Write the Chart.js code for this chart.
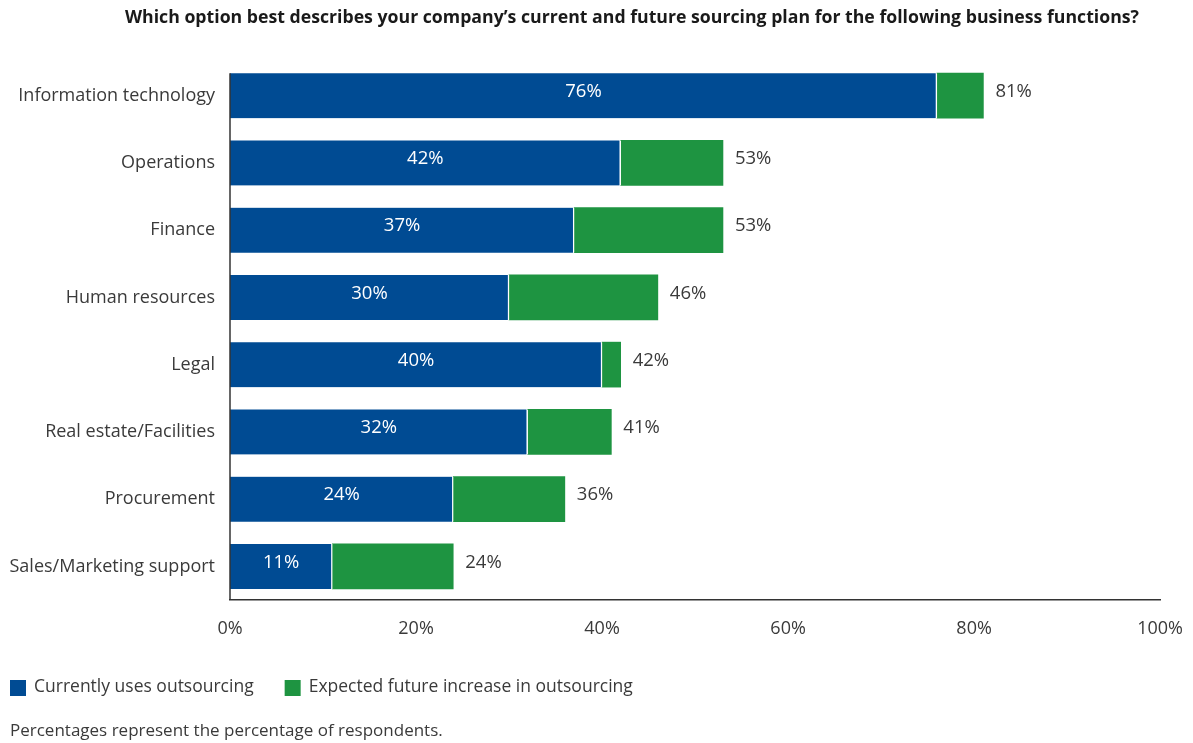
<!DOCTYPE html>
<html lang="en">
<head>
    <meta charset="UTF-8">
    <title>Sourcing plan by business function</title>
    <script src="https://cdn.jsdelivr.net/npm/chart.js@4.4.0/dist/chart.umd.min.js"></script>
    <style>
        html, body { margin: 0; padding: 0; background: #fff; }
        #wrap { width: 1193px; height: 743px; }
    </style>
</head>
<body>
<div id="wrap"><canvas id="sourcingChart"></canvas></div>

<script>
    // data
    const functions = ['Information technology', 'Operations', 'Finance', 'Human resources',
        'Legal', 'Real estate/Facilities', 'Procurement', 'Sales/Marketing support'];
    const currentUse = [76, 42, 37, 30, 40, 32, 24, 11];
    const expectedTotal = [81, 53, 53, 46, 42, 41, 36, 24];
    const xTicks = [0, 20, 40, 60, 80, 100];
    const chartTitle = 'Which option best describes your company\u2019s current and future sourcing plan for the following business functions?';
    const footnote = 'Percentages represent the percentage of respondents.';

    const increase = expectedTotal.map((t, i) => t - currentUse[i]);

    const BLUE = '#004b93';
    const GREEN = '#1e9441';
    const TEXT = '#3a3a3a';
    const FONT = "'Open Sans', sans-serif";

    // value labels: white in the blue bar, total to the right of the green one
    const barLabels = {
        id: 'barLabels',
        afterDatasetsDraw(chart) {
            const ctx = chart.ctx;
            ctx.save();
            ctx.font = '18.5px ' + FONT;
            ctx.textBaseline = 'middle';
            chart.getDatasetMeta(0).data.forEach((bar, i) => {
                ctx.fillStyle = '#fff';
                ctx.textAlign = 'center';
                ctx.fillText(currentUse[i] + '%', (bar.x + bar.base) / 2, bar.y - 4);
            });
            chart.getDatasetMeta(1).data.forEach((bar, i) => {
                ctx.fillStyle = TEXT;
                ctx.textAlign = 'left';
                ctx.fillText(expectedTotal[i] + '%', bar.x + 12, bar.y - 4);
            });

            // left axis line only runs from the top of the first bar down
            const first = chart.getDatasetMeta(0).data[0];
            const area = chart.chartArea;
            ctx.strokeStyle = '#333';
            ctx.lineWidth = 1.5;
            ctx.beginPath();
            ctx.moveTo(area.left, first.y - first.height / 2);
            ctx.lineTo(area.left, area.bottom);
            ctx.stroke();
            ctx.restore();
        }
    };

    // title, legend row and footnote
    const textBlocks = {
        id: 'textBlocks',
        afterDraw(chart) {
            const ctx = chart.ctx;
            ctx.save();
            ctx.textBaseline = 'middle';
            ctx.textAlign = 'center';
            ctx.fillStyle = '#1a1a1a';
            ctx.font = 'bold 17.7px ' + FONT;
            ctx.fillText(chartTitle, 632, 18);

            ctx.textAlign = 'left';
            ctx.font = '17.5px ' + FONT;
            let x = 10;
            chart.data.datasets.forEach(ds => {
                ctx.fillStyle = ds.backgroundColor;
                ctx.fillRect(x, 680, 16, 16);
                ctx.fillStyle = TEXT;
                ctx.fillText(ds.label, x + 24, 687);
                x += 24 + ctx.measureText(ds.label).width + 31;
            });
            ctx.font = '17px ' + FONT;
            ctx.fillText(footnote, 10, 731);
            ctx.restore();
        }
    };

    new Chart(document.getElementById('sourcingChart'), {
        type: 'bar',
        data: {
            labels: functions,
            datasets: [{
                label: 'Currently uses outsourcing',
                data: currentUse,
                backgroundColor: BLUE,
                borderColor: '#ffffff',
                borderWidth: { top: 0, bottom: 0, left: 0, right: 1.5 },
                borderSkipped: false,
                barThickness: 45
            }, {
                label: 'Expected future increase in outsourcing',
                data: increase,
                backgroundColor: GREEN,
                barThickness: 45
            }]
        },
        options: {
            indexAxis: 'y',
            responsive: true,
            maintainAspectRatio: false,
            animation: false,
            layout: { padding: { left: 0, right: 31, top: 62, bottom: 97 } },
            scales: {
                x: {
                    stacked: true,
                    min: 0,
                    max: 100,
                    afterBuildTicks(scale) {
                        scale.ticks = xTicks.map(v => ({ value: v }));
                    },
                    afterFit(scale) { scale.height = 46; },
                    grid: { display: false },
                    border: { display: true, color: '#333', width: 1.5 },
                    ticks: {
                        color: TEXT,
                        padding: 10,
                        font: { family: FONT, size: 18 },
                        callback: v => v + '%'
                    }
                },
                y: {
                    stacked: true,
                    afterFit(scale) { scale.width = 230; },
                    grid: { display: false },
                    border: { display: false },
                    ticks: {
                        color: TEXT,
                        padding: 7,
                        font: { family: FONT, size: 18 }
                    }
                }
            },
            plugins: {
                legend: { display: false },
                tooltip: { enabled: false }
            }
        },
        plugins: [barLabels, textBlocks]
    });
</script>
</body>
</html>
